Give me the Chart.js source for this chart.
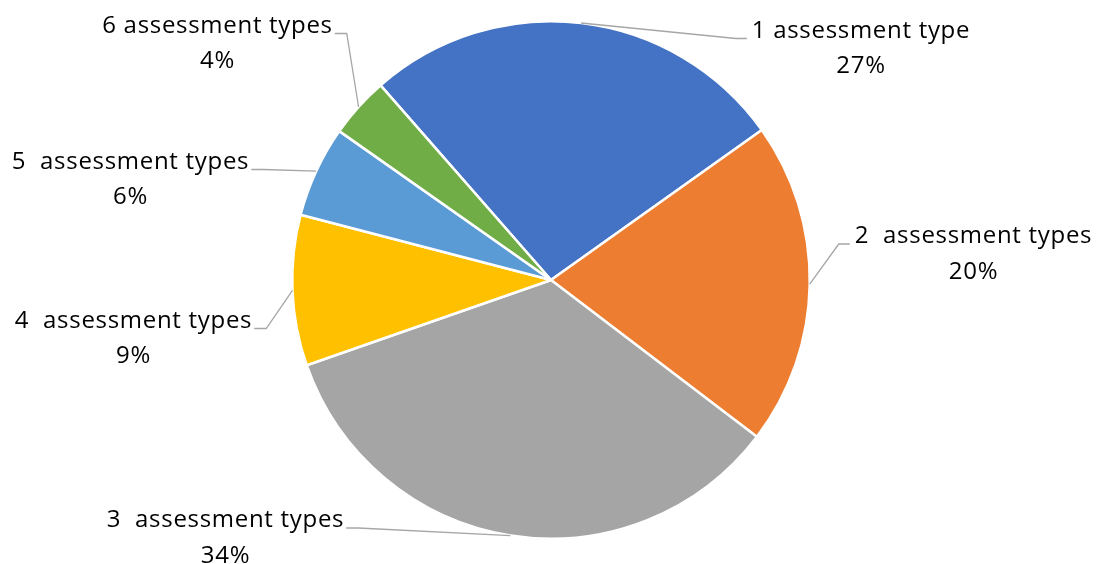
<!DOCTYPE html>
<html>
<head>
<meta charset="utf-8">
<script src="https://cdn.jsdelivr.net/npm/chart.js@4"></script>
<style>
  html, body { margin: 0; padding: 0; background: #fff; }
  #wrap { width: 1096px; height: 564px; position: relative; }
</style>
</head>
<body>
<div id="wrap"><canvas id="pie"></canvas></div>
<script>
  const categories = ["1 assessment type", "2  assessment types", "3  assessment types", "4  assessment types", "5  assessment types", "6 assessment types"];
  const shares = [26.6, 20.2, 34.3, 9.4, 5.7, 3.8];
  const sliceColors = ["#4472C4", "#ED7D31", "#A5A5A5", "#FFC000", "#5B9BD5", "#70AD47"];

  // where each label's first line sits, relative to the pie centre (px)
  const labelOffsets = [[310, -251], [422.5, -45.5], [-325.5, 238.5], [-417.5, 39], [-420.5, -120], [-333.5, -256]];

  const FONT = '24px "Open Sans", Lato, sans-serif';

  const pieLabels = {
    id: "pieLabels",
    afterDraw(chart) {
      const ctx = chart.ctx;
      const meta = chart.getDatasetMeta(0);
      const total = shares.reduce((a, b) => a + b, 0);
      ctx.save();
      ctx.font = FONT;
      ctx.letterSpacing = "0.7px";
      ctx.textAlign = "center";
      ctx.textBaseline = "alphabetic";
      meta.data.forEach((arc, i) => {
        const { x, y, startAngle, endAngle, outerRadius } = arc.getProps(["x", "y", "startAngle", "endAngle", "outerRadius"], true);
        const mid = (startAngle + endAngle) / 2;
        const px = x + Math.cos(mid) * outerRadius;
        const py = y + Math.sin(mid) * outerRadius;
        const tx = x + labelOffsets[i][0];
        const ty = y + labelOffsets[i][1];
        const w = ctx.measureText(categories[i]).width;
        const right = tx > x;
        const lineY = ty + 9.5;
        const endX = right ? tx - w / 2 - 5 : tx + w / 2 + 2;
        const elbowX = right ? endX - 11 : endX + 12;

        ctx.strokeStyle = "#A6A6A6";
        ctx.lineWidth = 1.3;
        ctx.beginPath();
        ctx.moveTo(px, py);
        ctx.lineTo(elbowX, lineY);
        ctx.lineTo(endX, lineY);
        ctx.stroke();

        ctx.fillStyle = "#000";
        ctx.fillText(categories[i], tx, ty + 8.5);
        ctx.fillText(Math.round(shares[i] / total * 100) + "%", tx, ty + 44.2);
      });
      ctx.restore();
    }
  };

  new Chart(document.getElementById("pie"), {
    type: "pie",
    data: {
      labels: categories,
      datasets: [{
        data: shares,
        backgroundColor: sliceColors,
        borderColor: "#ffffff",
        borderWidth: 2.5,
        hoverOffset: 0
      }]
    },
    options: {
      responsive: true,
      maintainAspectRatio: false,
      animation: false,
      rotation: -41.2,
      layout: { padding: { top: 20, bottom: 24, left: 291, right: 285 } },
      plugins: { legend: { display: false }, tooltip: { enabled: false } }
    },
    plugins: [pieLabels]
  });
</script>
</body>
</html>
